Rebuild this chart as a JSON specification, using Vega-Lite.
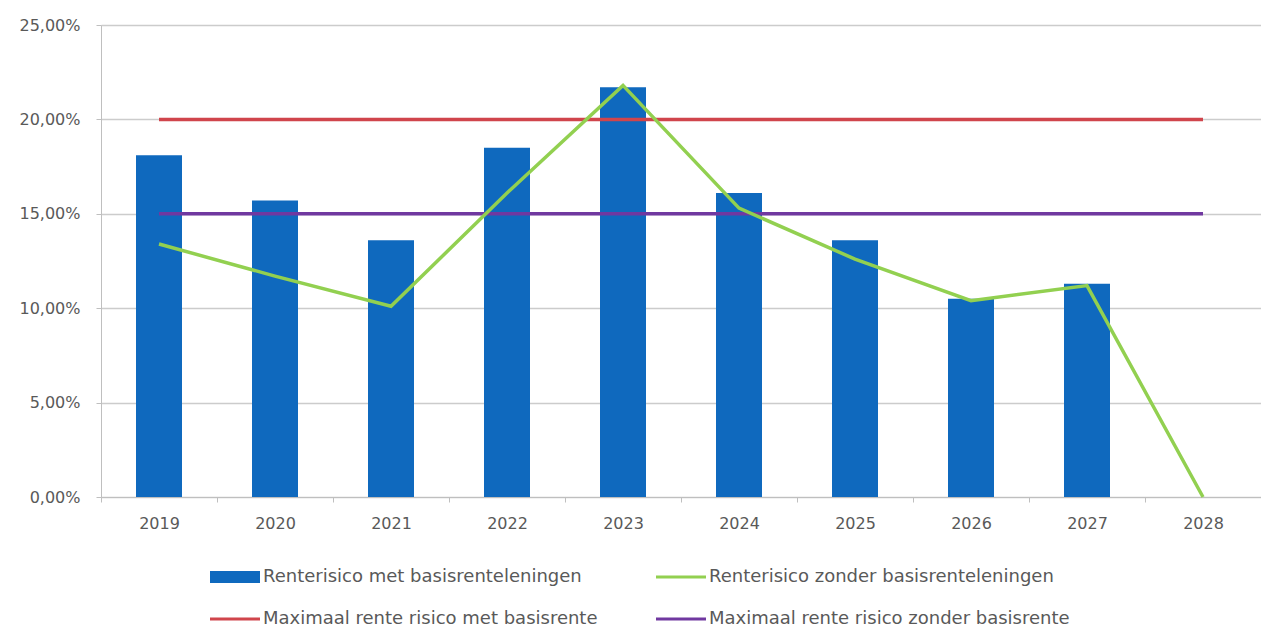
{
  "$schema": "https://vega.github.io/schema/vega-lite/v6.json",
  "autosize": {"type": "none"},
  "padding": {"left": 101, "top": 25, "right": 0, "bottom": 131},
  "width": 1160,
  "height": 472,
  "background": "white",
  "config": {
    "locale": {"number": {"decimal": ",", "thousands": ".", "grouping": [3], "currency": ["€", ""]}},
    "view": {"stroke": null},
    "font": "DejaVu Sans",
    "axis": {"labelFont": "DejaVu Sans", "labelFontSize": 16, "labelColor": "#595959"}
  },
  "data": {
    "values": [
      {"year": "2019", "met": 0.181, "zonder": 0.134, "maxMet": 0.20, "maxZonder": 0.15},
      {"year": "2020", "met": 0.157, "zonder": 0.117, "maxMet": 0.20, "maxZonder": 0.15},
      {"year": "2021", "met": 0.136, "zonder": 0.101, "maxMet": 0.20, "maxZonder": 0.15},
      {"year": "2022", "met": 0.185, "zonder": 0.161, "maxMet": 0.20, "maxZonder": 0.15},
      {"year": "2023", "met": 0.217, "zonder": 0.218, "maxMet": 0.20, "maxZonder": 0.15},
      {"year": "2024", "met": 0.161, "zonder": 0.153, "maxMet": 0.20, "maxZonder": 0.15},
      {"year": "2025", "met": 0.136, "zonder": 0.126, "maxMet": 0.20, "maxZonder": 0.15},
      {"year": "2026", "met": 0.105, "zonder": 0.104, "maxMet": 0.20, "maxZonder": 0.15},
      {"year": "2027", "met": 0.113, "zonder": 0.112, "maxMet": 0.20, "maxZonder": 0.15},
      {"year": "2028", "met": null, "zonder": 0.0, "maxMet": 0.20, "maxZonder": 0.15}
    ]
  },
  "encoding": {
    "x": {
      "field": "year", "type": "nominal", "title": null,
      "scale": {"paddingInner": 0, "paddingOuter": 0},
      "axis": {"labelAngle": 0, "tickBand": "extent", "domainColor": "#bfbfbf", "tickColor": "#bfbfbf", "tickSize": 5, "labelPadding": 13, "grid": false}
    }
  },
  "layer": [
    {
      "mark": {"type": "bar", "size": 46},
      "encoding": {
        "y": {
          "field": "met", "type": "quantitative", "title": null,
          "scale": {"domain": [0, 0.25], "nice": false},
          "axis": {"format": ".2%", "values": [0, 0.05, 0.1, 0.15, 0.2, 0.25], "gridColor": "#cccccc", "gridWidth": 1.5, "domainColor": "#bfbfbf", "tickColor": "#bfbfbf", "tickSize": 5, "labelPadding": 16, "domain": true}
        },
        "color": {
          "datum": "Renterisico met basisrenteleningen",
          "type": "nominal",
          "scale": {
            "domain": ["Renterisico met basisrenteleningen", "Renterisico zonder basisrenteleningen", "Maximaal rente risico met basisrente", "Maximaal rente risico zonder basisrente"],
            "range": ["#0F69BE", "#92D050", "#D0454C", "#7038A0"]
          },
          "legend": {
            "title": null,
            "orient": "none",
            "legendX": 109,
            "legendY": 527,
            "direction": "horizontal",
            "columns": 2,
            "columnPadding": 58,
            "rowPadding": 8,
            "symbolType": "M-1,-0.06H1V0.06H-1Z",
            "symbolSize": 2500,
            "symbolStrokeWidth": 0,
            "labelFont": "DejaVu Sans",
            "labelFontSize": 18,
            "labelColor": "#595959",
            "labelOffset": 3,
            "labelLimit": 500,
            "encode": {
              "symbols": {
                "update": {
                  "shape": {"signal": "datum.value === 'Renterisico met basisrenteleningen' ? 'M-1,-0.24H1V0.24H-1Z' : 'M-1,-0.06H1V0.06H-1Z'"},
                  "fill": {"signal": "scale('color', datum.value)"},
                  "fillOpacity": {"value": 1},
                  "strokeWidth": {"value": 0}
                }
              }
            }
          }
        }
      }
    },
    {
      "mark": {"type": "line", "strokeWidth": 3.5},
      "encoding": {"y": {"field": "maxMet", "type": "quantitative"}, "color": {"datum": "Maximaal rente risico met basisrente", "type": "nominal"}}
    },
    {
      "mark": {"type": "line", "strokeWidth": 3.5},
      "encoding": {"y": {"field": "maxZonder", "type": "quantitative"}, "color": {"datum": "Maximaal rente risico zonder basisrente", "type": "nominal"}}
    },
    {
      "mark": {"type": "line", "strokeWidth": 3.5},
      "encoding": {"y": {"field": "zonder", "type": "quantitative"}, "color": {"datum": "Renterisico zonder basisrenteleningen", "type": "nominal"}}
    }
  ]
}
